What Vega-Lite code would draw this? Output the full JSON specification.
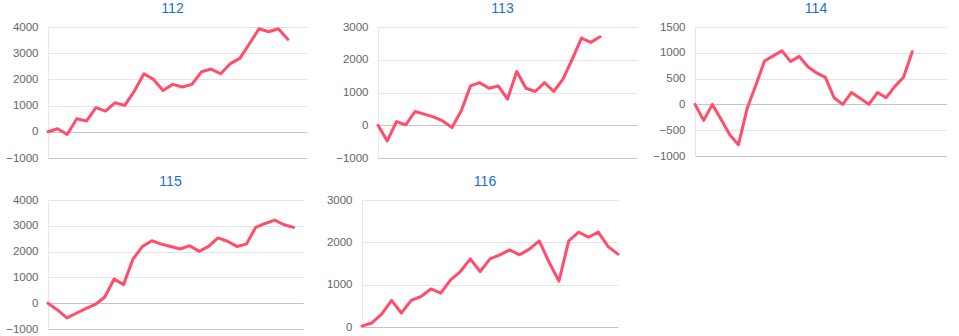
{
  "$schema": "https://vega.github.io/schema/vega-lite/v6.json",
  "padding": {"top": 2, "left": 0, "right": 0, "bottom": 0},
  "background": "white",
  "config": {
    "view": {"stroke": null},
    "font": "Liberation Sans",
    "title": {"fontSize": 14, "fontWeight": "normal", "color": "#1a6fd8", "font": "Liberation Sans", "frame": "group", "dx": -5, "offset": 5},
    "axisY": {
      "ticks": false,
      "domain": true,
      "domainColor": "#e6e6e6",
      "labelFont": "Liberation Sans",
      "labelFontSize": 11.5,
      "labelColor": "#666666",
      "labelPadding": 10,
      "gridColor": "#e4e4e4",
      "format": "d"
    },
    "line": {"color": "#ff4d6a", "strokeWidth": 3, "strokeJoin": "round", "strokeCap": "round"}
  },
  "datasets": {
    "p112": [{"i":0,"v":0},{"i":1,"v":115},{"i":2,"v":-100},{"i":3,"v":500},{"i":4,"v":410},{"i":5,"v":920},{"i":6,"v":790},{"i":7,"v":1110},{"i":8,"v":1010},{"i":9,"v":1555},{"i":10,"v":2215},{"i":11,"v":2000},{"i":12,"v":1580},{"i":13,"v":1810},{"i":14,"v":1710},{"i":15,"v":1810},{"i":16,"v":2290},{"i":17,"v":2395},{"i":18,"v":2215},{"i":19,"v":2600},{"i":20,"v":2800},{"i":21,"v":3360},{"i":22,"v":3935},{"i":23,"v":3820},{"i":24,"v":3935},{"i":25,"v":3530}],
    "p113": [{"i":0,"v":0},{"i":1,"v":-480},{"i":2,"v":110},{"i":3,"v":10},{"i":4,"v":420},{"i":5,"v":340},{"i":6,"v":255},{"i":7,"v":130},{"i":8,"v":-70},{"i":9,"v":440},{"i":10,"v":1200},{"i":11,"v":1300},{"i":12,"v":1130},{"i":13,"v":1200},{"i":14,"v":800},{"i":15,"v":1640},{"i":16,"v":1130},{"i":17,"v":1030},{"i":18,"v":1300},{"i":19,"v":1030},{"i":20,"v":1410},{"i":21,"v":2020},{"i":22,"v":2660},{"i":23,"v":2530},{"i":24,"v":2700}],
    "p114": [{"i":0,"v":0},{"i":1,"v":-310},{"i":2,"v":0},{"i":3,"v":-290},{"i":4,"v":-590},{"i":5,"v":-780},{"i":6,"v":-80},{"i":7,"v":370},{"i":8,"v":840},{"i":9,"v":940},{"i":10,"v":1040},{"i":11,"v":830},{"i":12,"v":930},{"i":13,"v":730},{"i":14,"v":610},{"i":15,"v":525},{"i":16,"v":130},{"i":17,"v":0},{"i":18,"v":230},{"i":19,"v":120},{"i":20,"v":0},{"i":21,"v":230},{"i":22,"v":130},{"i":23,"v":350},{"i":24,"v":525},{"i":25,"v":1020}],
    "p115": [{"i":0,"v":0},{"i":1,"v":-260},{"i":2,"v":-570},{"i":3,"v":-390},{"i":4,"v":-210},{"i":5,"v":-50},{"i":6,"v":230},{"i":7,"v":940},{"i":8,"v":720},{"i":9,"v":1710},{"i":10,"v":2200},{"i":11,"v":2420},{"i":12,"v":2290},{"i":13,"v":2200},{"i":14,"v":2100},{"i":15,"v":2230},{"i":16,"v":2010},{"i":17,"v":2200},{"i":18,"v":2530},{"i":19,"v":2400},{"i":20,"v":2200},{"i":21,"v":2290},{"i":22,"v":2940},{"i":23,"v":3090},{"i":24,"v":3220},{"i":25,"v":3040},{"i":26,"v":2940}],
    "p116": [{"i":0,"v":20},{"i":1,"v":95},{"i":2,"v":305},{"i":3,"v":630},{"i":4,"v":330},{"i":5,"v":630},{"i":6,"v":720},{"i":7,"v":900},{"i":8,"v":800},{"i":9,"v":1115},{"i":10,"v":1310},{"i":11,"v":1610},{"i":12,"v":1310},{"i":13,"v":1610},{"i":14,"v":1705},{"i":15,"v":1820},{"i":16,"v":1705},{"i":17,"v":1840},{"i":18,"v":2035},{"i":19,"v":1530},{"i":20,"v":1085},{"i":21,"v":2035},{"i":22,"v":2240},{"i":23,"v":2120},{"i":24,"v":2240},{"i":25,"v":1900},{"i":26,"v":1720}]
  },
  "spacing": 11,
  "vconcat": [
    {
      "spacing": 15,
      "hconcat": [
        {
          "title": "112",
          "width": 259, "height": 131,
          "data": {"name": "p112"}, "mark": "line",
          "encoding": {
            "x": {"field": "i", "type": "quantitative", "scale": {"domain": [0, 27], "nice": false, "zero": false}, "axis": null},
            "y": {"field": "v", "type": "quantitative", "scale": {"domain": [-1000, 4000], "nice": false}, "axis": {"title": null, "values": [-1000, 0, 1000, 2000, 3000, 4000], "minExtent": 46, "maxExtent": 46, "gridColor": {"condition": {"test": "datum.value === 0 || datum.value === -1000", "value": "#c4c4c4"}, "value": "#e4e4e4"}}}
          }
        },
        {
          "title": "113",
          "width": 259, "height": 131,
          "data": {"name": "p113"}, "mark": "line",
          "encoding": {
            "x": {"field": "i", "type": "quantitative", "scale": {"domain": [0, 28], "nice": false, "zero": false}, "axis": null},
            "y": {"field": "v", "type": "quantitative", "scale": {"domain": [-1000, 3000], "nice": false}, "axis": {"title": null, "values": [-1000, 0, 1000, 2000, 3000], "minExtent": 56, "maxExtent": 56, "gridColor": {"condition": {"test": "datum.value === 0 || datum.value === -1000", "value": "#c4c4c4"}, "value": "#e4e4e4"}}}
          }
        },
        {
          "title": "114",
          "width": 252, "height": 129,
          "data": {"name": "p114"}, "mark": "line",
          "encoding": {
            "x": {"field": "i", "type": "quantitative", "scale": {"domain": [0, 29], "nice": false, "zero": false}, "axis": null},
            "y": {"field": "v", "type": "quantitative", "scale": {"domain": [-1000, 1500], "nice": false}, "axis": {"title": null, "values": [-1000, -500, 0, 500, 1000, 1500], "minExtent": 43, "maxExtent": 43, "gridColor": {"condition": {"test": "datum.value === 0 || datum.value === -1000", "value": "#c4c4c4"}, "value": "#e4e4e4"}}}
          }
        }
      ]
    },
    {
      "spacing": 15,
      "hconcat": [
        {
          "title": "115",
          "width": 255, "height": 129,
          "data": {"name": "p115"}, "mark": "line",
          "encoding": {
            "x": {"field": "i", "type": "quantitative", "scale": {"domain": [0, 27], "nice": false, "zero": false}, "axis": null},
            "y": {"field": "v", "type": "quantitative", "scale": {"domain": [-1000, 4000], "nice": false}, "axis": {"title": null, "values": [-1000, 0, 1000, 2000, 3000, 4000], "minExtent": 48, "maxExtent": 48, "gridColor": {"condition": {"test": "datum.value === 0 || datum.value === -1000", "value": "#c4c4c4"}, "value": "#e4e4e4"}}}
          }
        },
        {
          "title": "116",
          "width": 256, "height": 127,
          "data": {"name": "p116"}, "mark": "line",
          "encoding": {
            "x": {"field": "i", "type": "quantitative", "scale": {"domain": [0, 26], "nice": false, "zero": false}, "axis": null},
            "y": {"field": "v", "type": "quantitative", "scale": {"domain": [0, 3000], "nice": false}, "axis": {"title": null, "values": [0, 1000, 2000, 3000], "minExtent": 44, "maxExtent": 44, "gridColor": {"condition": {"test": "datum.value === 0", "value": "#c4c4c4"}, "value": "#e4e4e4"}}}
          }
        }
      ]
    }
  ]
}
